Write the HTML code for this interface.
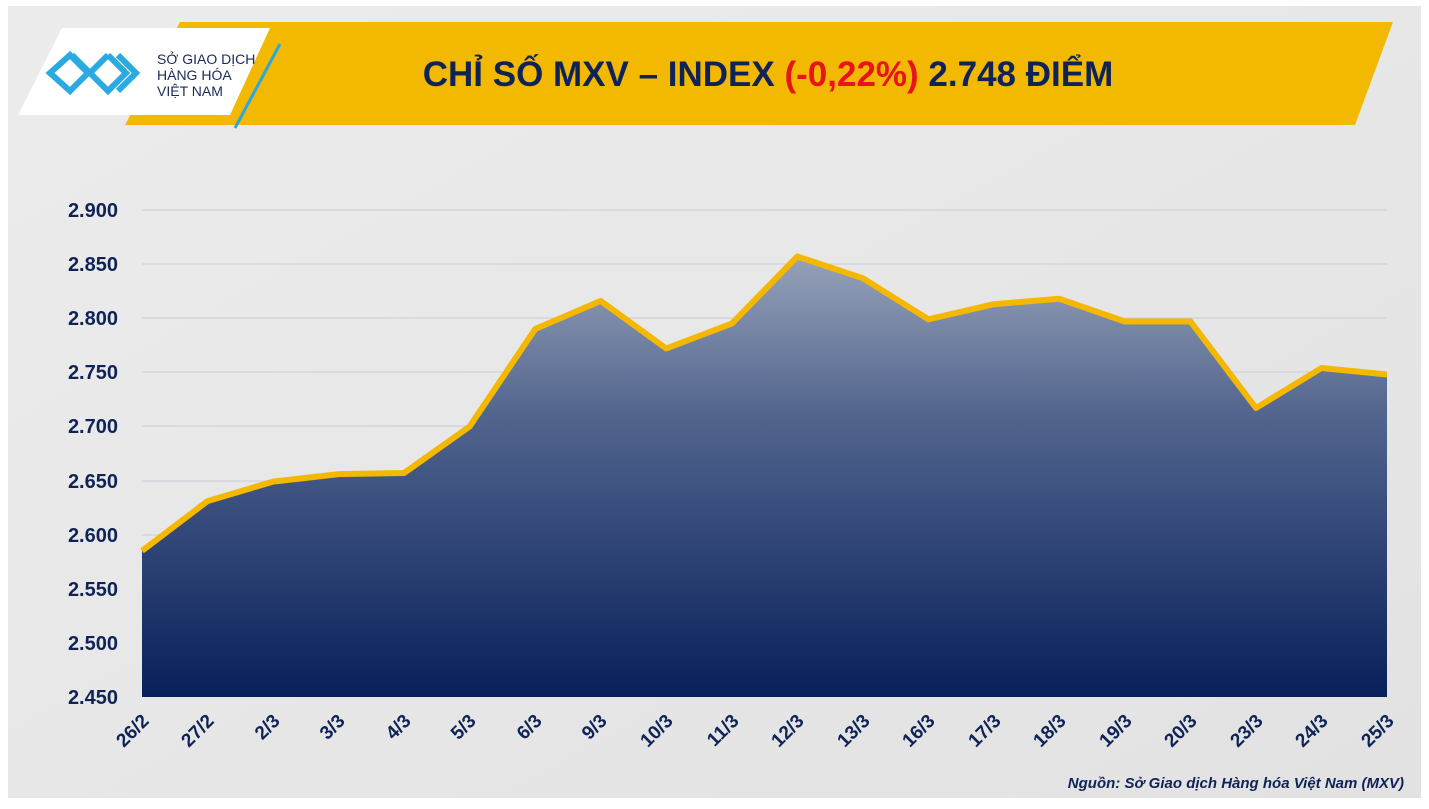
<!DOCTYPE html>
<html><head><meta charset="utf-8"><style>
body{margin:0;width:1429px;height:804px;overflow:hidden;background:#fff;font-family:"Liberation Sans",sans-serif}
</style></head><body>
<svg width="1429" height="804" viewBox="0 0 1429 804" xmlns="http://www.w3.org/2000/svg">
<defs>
<linearGradient id="g" x1="0" y1="0" x2="0" y2="1">
<stop offset="0" stop-color="#97a2b8"/><stop offset="0.35" stop-color="#53668f"/><stop offset="1" stop-color="#08205a"/>
</linearGradient>
<linearGradient id="bg" x1="0" y1="0" x2="1" y2="1">
<stop offset="0" stop-color="#ececec"/><stop offset="1" stop-color="#e2e2e2"/>
</linearGradient>
</defs>
<rect x="8" y="6" width="1413" height="792" fill="url(#bg)"/>
<polygon points="180,22 1393,22 1355,125 125,125" fill="#f2b900"/>
<polygon points="62,28 270,28 230,115 18,115" fill="#fff"/>
<line x1="280" y1="44" x2="235" y2="128" stroke="#2aa8e0" stroke-width="3"/>
<g fill="none" stroke="#29abe2" stroke-width="6">
<path d="M50,73 L70,55 L88,73 L70,91 Z"/><path d="M72,55 L90,73 L108,55"/><path d="M90,73 L108,91 L126,73 L108,55"/><path d="M118,55 L136,73 L118,91"/>
</g>
<text x="157" y="64" font-size="14" fill="#1b2a5a">SỞ GIAO DỊCH</text>
<text x="157" y="80" font-size="14" fill="#1b2a5a">HÀNG HÓA</text>
<text x="157" y="96" font-size="14" fill="#1b2a5a">VIỆT NAM</text>
<text x="768" y="86" font-size="35" font-weight="bold" text-anchor="middle" fill="#0f2357">CHỈ SỐ MXV – INDEX <tspan fill="#e8131b">(-0,22%)</tspan> 2.748 ĐIỂM</text>
<g stroke="#c9cdd8" stroke-width="1">
<line x1="142" y1="210" x2="1387" y2="210"/><line x1="142" y1="264" x2="1387" y2="264"/><line x1="142" y1="318" x2="1387" y2="318"/><line x1="142" y1="372" x2="1387" y2="372"/><line x1="142" y1="426" x2="1387" y2="426"/><line x1="142" y1="481" x2="1387" y2="481"/><line x1="142" y1="535" x2="1387" y2="535"/><line x1="142" y1="589" x2="1387" y2="589"/><line x1="142" y1="643" x2="1387" y2="643"/>
</g>
<polygon fill="url(#g)" points="142,697 142,550.9 207.5,501.1 273.1,481.6 338.6,474.1 404.1,473 469.7,426.4 535.2,329 600.7,300.9 666.2,348.5 731.8,323.6 797.3,256.5 862.8,278.2 928.4,319.3 993.9,304.2 1059.4,298.8 1124.9,321.5 1190.5,321.5 1256,408 1321.5,368 1387,374.5 1387,697"/>
<polyline fill="none" stroke="#f4b800" stroke-width="6" stroke-linejoin="round" points="142,550.9 207.5,501.1 273.1,481.6 338.6,474.1 404.1,473 469.7,426.4 535.2,329 600.7,300.9 666.2,348.5 731.8,323.6 797.3,256.5 862.8,278.2 928.4,319.3 993.9,304.2 1059.4,298.8 1124.9,321.5 1190.5,321.5 1256,408 1321.5,368 1387,374.5"/>
<g font-size="20" font-weight="bold" fill="#0f2357" text-anchor="end">
<text x="118" y="217">2.900</text><text x="118" y="271">2.850</text><text x="118" y="325">2.800</text><text x="118" y="379">2.750</text><text x="118" y="433">2.700</text><text x="118" y="488">2.650</text><text x="118" y="542">2.600</text><text x="118" y="596">2.550</text><text x="118" y="650">2.500</text><text x="118" y="704">2.450</text>
</g>
<g font-size="19" font-weight="bold" fill="#0f2357" text-anchor="end">
<text transform="translate(150,722) rotate(-45)">26/2</text>
<text transform="translate(215,722) rotate(-45)">27/2</text>
<text transform="translate(281,722) rotate(-45)">2/3</text>
<text transform="translate(346,722) rotate(-45)">3/3</text>
<text transform="translate(412,722) rotate(-45)">4/3</text>
<text transform="translate(477,722) rotate(-45)">5/3</text>
<text transform="translate(543,722) rotate(-45)">6/3</text>
<text transform="translate(608,722) rotate(-45)">9/3</text>
<text transform="translate(674,722) rotate(-45)">10/3</text>
<text transform="translate(740,722) rotate(-45)">11/3</text>
<text transform="translate(805,722) rotate(-45)">12/3</text>
<text transform="translate(871,722) rotate(-45)">13/3</text>
<text transform="translate(936,722) rotate(-45)">16/3</text>
<text transform="translate(1002,722) rotate(-45)">17/3</text>
<text transform="translate(1067,722) rotate(-45)">18/3</text>
<text transform="translate(1133,722) rotate(-45)">19/3</text>
<text transform="translate(1198,722) rotate(-45)">20/3</text>
<text transform="translate(1264,722) rotate(-45)">23/3</text>
<text transform="translate(1329,722) rotate(-45)">24/3</text>
<text transform="translate(1395,722) rotate(-45)">25/3</text>
</g>
<text x="1404" y="788" font-size="15" font-weight="bold" font-style="italic" fill="#0f2357" text-anchor="end">Nguồn: Sở Giao dịch Hàng hóa Việt Nam (MXV)</text>
</svg>
</body></html>
